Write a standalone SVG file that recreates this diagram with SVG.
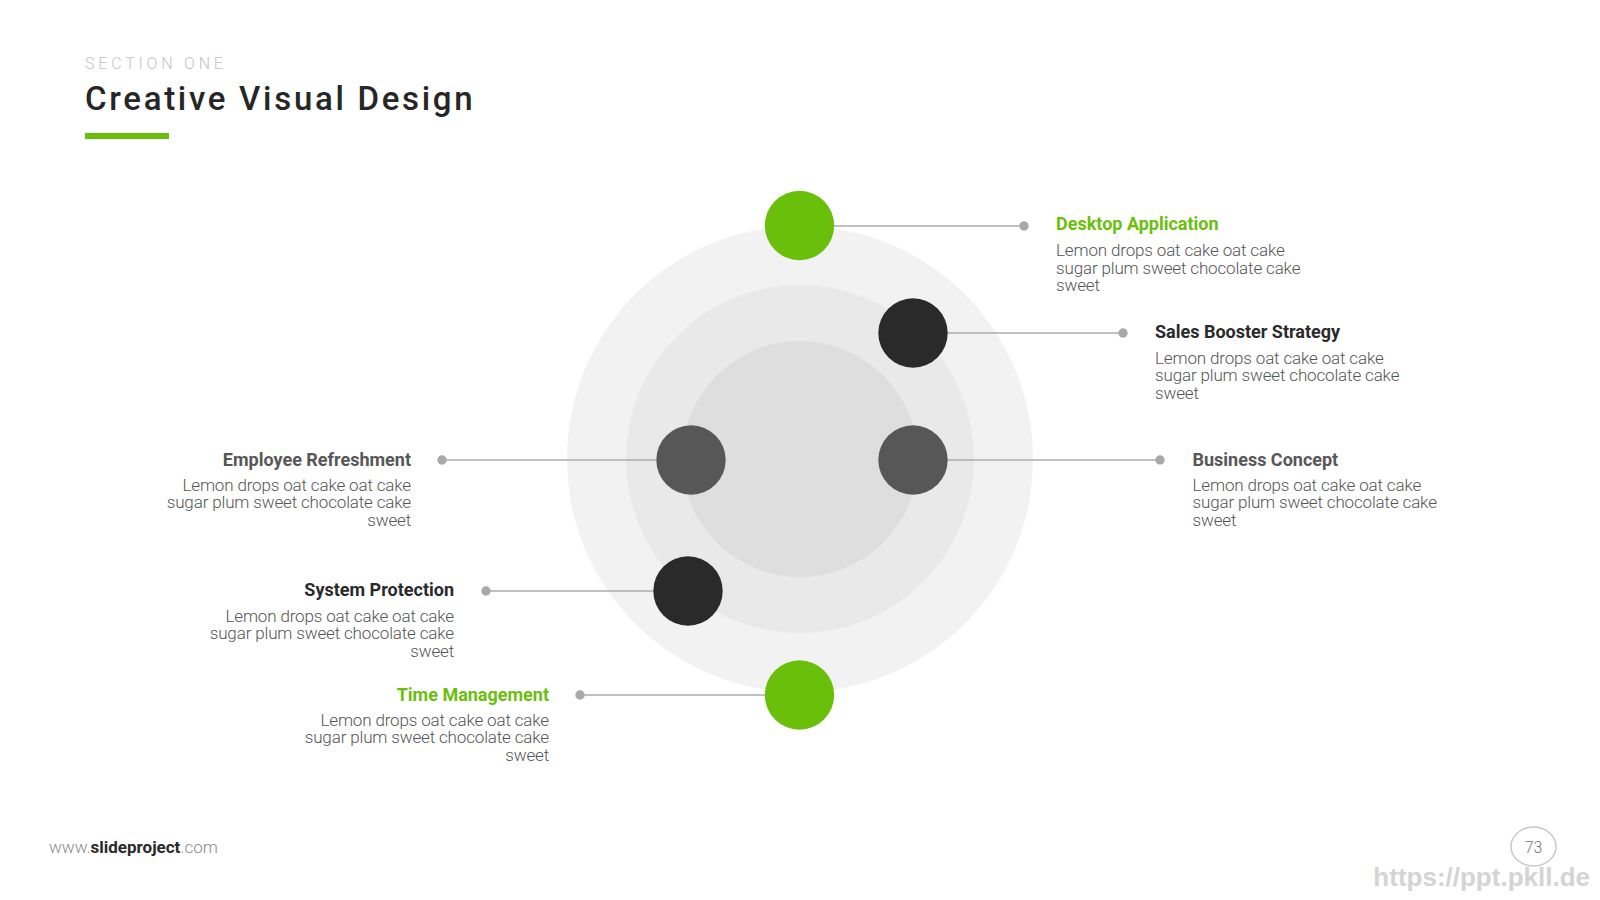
<svg xmlns="http://www.w3.org/2000/svg" width="1600" height="900" viewBox="0 0 1600 900">
<style>
.sec{font-family:Roboto,"Liberation Sans",sans-serif;font-weight:300;font-size:16px;fill:#c4c4c4;letter-spacing:3.8px}
.title{font-family:Roboto,"Liberation Sans",sans-serif;font-weight:500;font-size:33px;fill:#262626;letter-spacing:2.7px}
.hd{font-family:Roboto,"Liberation Sans",sans-serif;font-weight:700;font-size:18px;letter-spacing:0}
.bd{font-family:Roboto,"Liberation Sans",sans-serif;font-weight:300;font-size:17px;fill:#555;letter-spacing:-0.15px}
.green{fill:#6abf0b}
.black{fill:#2a2a2a}
.grey{fill:#575757}
.conn{stroke:#ababab;stroke-width:1.4;fill:none}
.dot{fill:#a9a9a9}
.foot{font-family:Roboto,"Liberation Sans",sans-serif;font-size:17px}
</style>
<rect width="1600" height="900" fill="#fff"/>
<g id="header">
<text class="sec" x="85" y="69">SECTION ONE</text>
<text class="title" x="85" y="110">Creative Visual Design</text>
<rect x="85" y="133" width="84" height="6" fill="#6abf0b"/>
</g>
<g id="rings">
<circle cx="800" cy="459" r="233" fill="#f2f2f2"/>
<circle cx="800" cy="459" r="174" fill="#e9e9e9"/>
<circle cx="800" cy="459" r="118" fill="#dedede"/>
</g>
<g id="connectors">
<line class="conn" x1="834" y1="226" x2="1024" y2="226"/>
<circle class="dot" cx="1024" cy="226" r="4.7"/>
<line class="conn" x1="947" y1="333" x2="1123" y2="333"/>
<circle class="dot" cx="1123" cy="333" r="4.7"/>
<line class="conn" x1="947" y1="460" x2="1160" y2="460"/>
<circle class="dot" cx="1160" cy="460" r="4.7"/>
<line class="conn" x1="442" y1="460" x2="656" y2="460"/>
<circle class="dot" cx="442" cy="460" r="4.7"/>
<line class="conn" x1="486" y1="591" x2="653" y2="591"/>
<circle class="dot" cx="486" cy="591" r="4.7"/>
<line class="conn" x1="580" y1="695" x2="765" y2="695"/>
<circle class="dot" cx="580" cy="695" r="4.7"/>
</g>
<g id="node-desktop">
<circle class="green" cx="799.5" cy="225.5" r="34.7"/>
<text class="hd green" x="1056" y="230">Desktop Application</text>
<text class="bd" x="1056" y="256">Lemon drops oat cake oat cake</text>
<text class="bd" x="1056" y="273.5">sugar plum sweet chocolate cake</text>
<text class="bd" x="1056" y="291">sweet</text>
</g>
<g id="node-sales">
<circle class="black" cx="913" cy="333" r="34.7"/>
<text class="hd black" x="1155" y="338">Sales Booster Strategy</text>
<text class="bd" x="1155" y="363.5">Lemon drops oat cake oat cake</text>
<text class="bd" x="1155" y="381">sugar plum sweet chocolate cake</text>
<text class="bd" x="1155" y="398.5">sweet</text>
</g>
<g id="node-business">
<circle class="grey" cx="913" cy="460" r="34.7"/>
<text class="hd grey" x="1192.5" y="465.5">Business Concept</text>
<text class="bd" x="1192.5" y="490.5">Lemon drops oat cake oat cake</text>
<text class="bd" x="1192.5" y="508">sugar plum sweet chocolate cake</text>
<text class="bd" x="1192.5" y="525.5">sweet</text>
</g>
<g id="node-employee" text-anchor="end">
<circle class="grey" cx="691" cy="460" r="34.7"/>
<text class="hd grey" x="411" y="465.5">Employee Refreshment</text>
<text class="bd" x="411" y="490.5">Lemon drops oat cake oat cake</text>
<text class="bd" x="411" y="508">sugar plum sweet chocolate cake</text>
<text class="bd" x="411" y="525.5">sweet</text>
</g>
<g id="node-system" text-anchor="end">
<circle class="black" cx="688" cy="591" r="34.7"/>
<text class="hd black" x="454" y="596">System Protection</text>
<text class="bd" x="454" y="621.5">Lemon drops oat cake oat cake</text>
<text class="bd" x="454" y="639">sugar plum sweet chocolate cake</text>
<text class="bd" x="454" y="656.5">sweet</text>
</g>
<g id="node-time" text-anchor="end">
<circle class="green" cx="799.5" cy="695" r="34.7"/>
<text class="hd green" x="549" y="700.5">Time Management</text>
<text class="bd" x="549" y="725.5">Lemon drops oat cake oat cake</text>
<text class="bd" x="549" y="743">sugar plum sweet chocolate cake</text>
<text class="bd" x="549" y="760.5">sweet</text>
</g>
<g id="footer">
<text class="foot" x="49" y="853"><tspan font-weight="300" fill="#8a8a8a">www.</tspan><tspan font-weight="700" fill="#2a2a2a">slideproject</tspan><tspan font-weight="300" fill="#8a8a8a">.com</tspan></text>
<ellipse cx="1533.5" cy="846.5" rx="22.5" ry="19.5" fill="none" stroke="#c8c8c8" stroke-width="1.5"/>
<text x="1533.5" y="852.5" text-anchor="middle" font-family="Roboto,'Liberation Sans',sans-serif" font-weight="300" font-size="16" fill="#777">73</text>
<text x="1590" y="886" text-anchor="end" font-family="'Liberation Sans',sans-serif" font-weight="700" font-size="26" fill="#d4d4d4">https://ppt.pkll.de</text>
</g>
</svg>
